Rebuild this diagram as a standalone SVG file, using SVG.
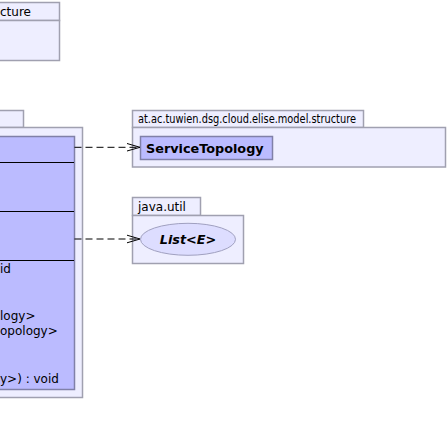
<svg xmlns="http://www.w3.org/2000/svg" width="448" height="435" viewBox="0 0 448 435">
<style>
.pkg{fill:#EEEEFF;stroke:#A0A0B0;stroke-width:1.5}
.cls{fill:#BBBBFF;stroke:#8080A8;stroke-width:1.5}
.sep{stroke:#000;stroke-width:1}
.t{font-family:"DejaVu Sans",sans-serif;font-size:12px;fill:#000}
.cn{font-family:"DejaVu Sans",sans-serif;font-size:12.8px;font-weight:bold;fill:#000}
.dep{fill:none;stroke:#000;stroke-width:1;stroke-dasharray:7,4}
.head{fill:none;stroke:#000;stroke-width:1}
</style>
<rect width="448" height="435" fill="#fff"/>
<g id="pkg-structure-top">
<rect class="pkg" x="-5" y="2.5" width="64.5" height="18"/>
<rect class="pkg" x="-5" y="20.5" width="64.5" height="40"/>
<text class="t" x="0" y="16">cture</text>
</g>
<g id="pkg-left">
<rect class="pkg" x="-5" y="110.5" width="28.5" height="17"/>
<rect class="pkg" x="-5" y="127.5" width="87.5" height="270"/>
</g>
<g id="class-main">
<rect class="cls" x="-5" y="136.5" width="79.5" height="253"/>
<line class="sep" x1="-5" y1="162.5" x2="74" y2="162.5"/>
<line class="sep" x1="-5" y1="211.5" x2="74" y2="211.5"/>
<line class="sep" x1="-5" y1="260.5" x2="74" y2="260.5"/>
<text class="t" x="0" y="273">id</text>
<text class="t" x="0" y="320">logy&gt;</text>
<text class="t" x="0" y="335">opology&gt;</text>
<text class="t" x="0" y="383">y&gt;) : void</text>
</g>
<g id="pkg-model-structure">
<rect class="pkg" x="132.5" y="110.5" width="231" height="17"/>
<rect class="pkg" x="132.5" y="127.5" width="313" height="39.5"/>
<text class="t" x="138" y="123" textLength="218" lengthAdjust="spacingAndGlyphs">at.ac.tuwien.dsg.cloud.elise.model.structure</text>
</g>
<g id="ServiceTopology">
<rect class="cls" x="140.5" y="136.5" width="132" height="23"/>
<text class="cn" x="146" y="152.5">ServiceTopology</text>
</g>
<g id="pkg-java-util">
<rect class="pkg" x="132.5" y="197.5" width="68" height="18"/>
<rect class="pkg" x="132.5" y="215.5" width="111" height="48"/>
<text class="t" x="138" y="211">java.util</text>
</g>
<g id="List">
<ellipse cx="188" cy="239.3" rx="47.5" ry="16" fill="#DDDDFF" stroke="#A0A0C0" stroke-width="1"/>
<text class="cn" x="188" y="244" text-anchor="middle" font-style="italic">List&lt;E&gt;</text>
</g>
<g id="connectors">
<line class="dep" x1="74.5" y1="147.3" x2="139" y2="147.3"/>
<polyline class="head" points="127,143.5 140,147.3 127,151"/>
<line class="dep" x1="74.5" y1="239" x2="139" y2="239"/>
<polyline class="head" points="127,235.2 140,239 127,242.8"/>
</g>
</svg>
